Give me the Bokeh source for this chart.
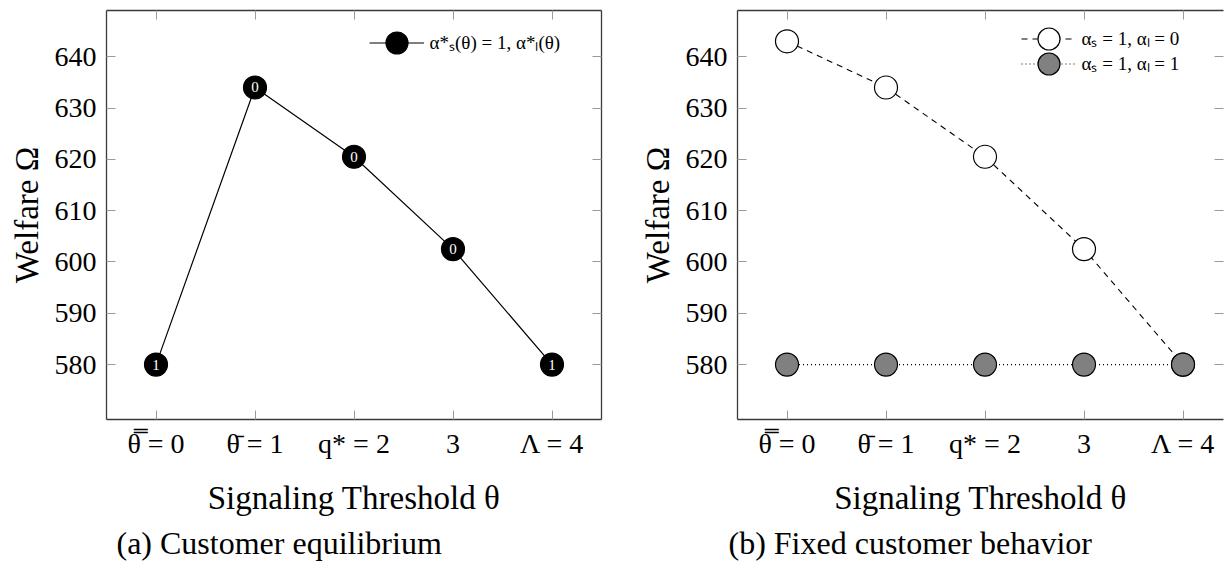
from bokeh.plotting import figure
from bokeh.models import Range1d, LinearAxis, FixedTicker, Title, Legend, LegendItem
from bokeh.layouts import row
from bokeh.embed import file_html
from bokeh.resources import INLINE
from bokeh.core.properties import value

# ---- data ----
thresholds = [0, 1, 2, 3, 4]
threshold_labels = ["\u03b8\u033f = 0", "\u03b8\u0304 = 1", "q* = 2", "3", "\u039b = 4"]
welfare_equilibrium = [580.0, 634.0, 620.5, 602.5, 580.0]
alpha_l_equilibrium = ["1", "0", "0", "0", "1"]
welfare_alpha_l0 = [643.0, 634.0, 620.5, 602.5, 580.0]
welfare_alpha_l1 = [580.0, 580.0, 580.0, 580.0, 580.0]
welfare_ticks = [580, 590, 600, 610, 620, 630, 640]

legend_eq = "\u03b1*\u209b(\u03b8) = 1, \u03b1*\u2097(\u03b8)"
legend_l0 = "\u03b1\u209b = 1, \u03b1\u2097 = 0"
legend_l1 = "\u03b1\u209b = 1, \u03b1\u2097 = 1"
caption_a = "(a) Customer equilibrium"
caption_b = "(b) Fixed customer behavior"
x_title = "Signaling Threshold \u03b8"
y_title = "Welfare \u03a9"

FONT = "Liberation Serif"
FRAME_H = 409
LEFT = 106
TOP = 10
BOTTOM = 152
TICK_COLOR = "#9a9a9a"
FRAME_COLOR = "#3a3a3a"


def make_axis(ticks, overrides=None, show_labels=True, line=True):
    ax = LinearAxis(ticker=FixedTicker(ticks=ticks))
    ax.major_tick_in = 9
    ax.major_tick_out = 0
    ax.minor_tick_in = 0
    ax.minor_tick_out = 0
    ax.major_tick_line_color = TICK_COLOR
    ax.major_tick_line_width = 1
    ax.axis_line_color = FRAME_COLOR if line else None
    ax.axis_line_width = 1.3
    if overrides:
        ax.major_label_overrides = overrides
    if show_labels:
        ax.major_label_text_font = FONT
        ax.major_label_text_font_size = "28px"
        ax.major_label_text_color = "black"
    else:
        ax.major_label_text_color = None
        ax.major_label_text_font_size = "0px"
        ax.major_label_standoff = 0
    return ax


def base_figure(frame_w, x_end, right_border, right_line, caption, caption_offset):
    p = figure(frame_width=frame_w, frame_height=FRAME_H,
               x_range=Range1d(-0.5, x_end), y_range=Range1d(569.3, 649.0),
               x_axis_location=None, y_axis_location=None,
               output_backend="svg", toolbar_location=None,
               min_border_left=LEFT, min_border_right=right_border,
               min_border_top=TOP, min_border_bottom=BOTTOM,
               background_fill_color="white", border_fill_color="white")
    p.outline_line_color = None
    p.grid.visible = False

    overrides = {t: lab for t, lab in zip(thresholds, threshold_labels)}
    bx = make_axis(thresholds, overrides=overrides)
    bx.major_label_standoff = 8
    bx.axis_label = x_title
    bx.axis_label_text_font = FONT
    bx.axis_label_text_font_size = "33px"
    bx.axis_label_text_font_style = "normal"
    bx.axis_label_text_color = "black"
    bx.axis_label_standoff = 18
    p.add_layout(bx, "below")

    ly = make_axis(welfare_ticks)
    ly.major_label_standoff = 10
    ly.axis_label = y_title
    ly.axis_label_text_font = FONT
    ly.axis_label_text_font_size = "33px"
    ly.axis_label_text_font_style = "normal"
    ly.axis_label_text_color = "black"
    ly.axis_label_standoff = 7
    p.add_layout(ly, "left")

    p.add_layout(make_axis(thresholds, show_labels=False), "above")
    p.add_layout(make_axis(welfare_ticks, show_labels=False, line=right_line), "right")

    p.add_layout(Title(text=caption, align="left", offset=caption_offset,
                       text_font=FONT, text_font_size="32px",
                       text_font_style="normal", text_color="black",
                       standoff=8), "below")
    return p


def legend_at(item_label, renderers, vx, vy):
    return Legend(items=[LegendItem(label=item_label, renderers=renderers)],
                  location=(vx, vy), glyph_width=55, glyph_height=55,
                  padding=0, margin=0, spacing=0, label_standoff=6,
                  border_line_color=None, background_fill_alpha=0,
                  label_text_font=FONT, label_text_font_size="19px",
                  label_text_color="black")


# ---- panel (a) ----
pa = base_figure(495, 4.5, 30, True, caption_a, 10)
la = pa.line(thresholds, welfare_equilibrium, line_color="black", line_width=1.2)
sa = pa.scatter(thresholds, welfare_equilibrium, size=23, fill_color="black",
                line_color="black", line_width=1.2)
pa.text(thresholds, welfare_equilibrium, text=alpha_l_equilibrium,
        text_color="white", text_align="center", text_baseline="middle",
        text_font=value(FONT), text_font_size="15px")
pa.add_layout(legend_at(legend_eq, [la, sa], 262.5, 349.5))

# ---- panel (b) ----
pb = base_figure(486, -0.5 + 486 / 99.0, 2, False, caption_b, -9)
lb0 = pb.line(thresholds, welfare_alpha_l0, line_color="black", line_width=1.1,
              line_dash="6 5")
lb1 = pb.line(thresholds, welfare_alpha_l1, line_color="black", line_width=1.1,
              line_dash="1 3")
sb0 = pb.scatter(thresholds, welfare_alpha_l0, size=23, fill_color="white",
                 line_color="black", line_width=1.2)
sb1 = pb.scatter(thresholds, welfare_alpha_l1, size=23, fill_color="#808080",
                 line_color="black", line_width=1.2)
pb.add_layout(legend_at(legend_l0, [lb0, sb0], 283.5, 353.5))
pb.add_layout(legend_at(legend_l1, [lb1, sb1], 283.5, 328.5))

layout = row(pa, pb)
with open("out.html", "w", encoding="utf-8") as f:
    f.write(file_html(layout, INLINE))
